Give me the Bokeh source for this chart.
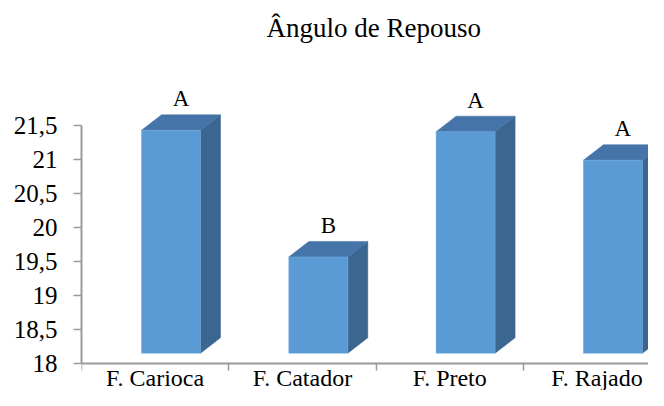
from bokeh.plotting import figure
from bokeh.models import Range1d, LinearAxis, FixedTicker, ColumnDataSource
from bokeh.core.properties import value
from bokeh.embed import file_html
from bokeh.resources import INLINE

# ---- data ----
categories = ["F. Carioca", "F. Catador", "F. Preto", "F. Rajado"]
angulo = [21.43, 19.57, 21.41, 20.99]
letras = ["A", "B", "A", "A"]
y_ticks = [18, 18.5, 19, 19.5, 20, 20.5, 21, 21.5]
title_text = "Ângulo de Repouso"

# ---- layout / style constants ----
W, H = 648, 390
LEFT, TOP = 81, 47
Y_TOP_PX = 125          # pixel row of the top tick
CAT_PX = 147.3          # pixels per category
UNIT_PX = 68.09         # pixels per y unit
PX_X = 1.0 / CAT_PX
PX_Y = 1.0 / UNIT_PX
FRONT_OFF = 60 * PX_X   # front face left offset inside category
BAR_W = 59 * PX_X
DX = 20 * PX_X          # 3D depth
DY = 15.5 * PX_Y
BASE = 18.155           # front face bottom
LETTER_GAP = 7 * PX_Y
FONT = "Liberation Serif"
FRONT_C = "#5B9BD5"
TOP_C = "#4575A8"
SIDE_C = "#3A6690"
AXIS_C = "#9a9a9a"

y0, y1 = y_ticks[0], y_ticks[-1]
y_end = y1 + (Y_TOP_PX - TOP) * PX_Y
y_start = y_end - (H - TOP) * PX_Y
x_end = (W - LEFT) * PX_X

p = figure(width=W, height=H, output_backend="svg", toolbar_location=None,
           x_axis_type=None, y_axis_type=None,
           x_range=Range1d(0, x_end), y_range=Range1d(y_start, y_end),
           min_border_left=LEFT, min_border_right=0, min_border_top=TOP,
           min_border_bottom=0, outline_line_color=None,
           background_fill_color="white", border_fill_color="white")

p.title.text = title_text
p.title.text_font = FONT
p.title.text_font_size = "27px"
p.title.text_font_style = "normal"
p.title.text_color = "#000000"
p.title.align = "left"
p.title.offset = 185

n = len(categories)
lefts = [i + FRONT_OFF for i in range(n)]
rights = [l + BAR_W for l in lefts]

side_xs = [[r, r, r + DX, r + DX] for r in rights]
side_ys = [[BASE, v, v + DY, BASE + DY] for v in angulo]
top_xs = [[l, l + DX, r + DX, r] for l, r in zip(lefts, rights)]
top_ys = [[v, v + DY, v + DY, v] for v in angulo]

p.patches(side_xs, side_ys, fill_color=SIDE_C, line_color=SIDE_C, line_width=0.5)
p.patches(top_xs, top_ys, fill_color=TOP_C, line_color=TOP_C, line_width=0.5)
p.quad(left=lefts, right=rights, bottom=BASE, top=angulo,
       fill_color=FRONT_C, line_color="#6FA8DC", line_width=0.5)

lab_src = ColumnDataSource(dict(
    x=[l + (BAR_W + DX) / 2 for l in lefts],
    y=[v + DY + LETTER_GAP for v in angulo],
    t=letras))
p.text(x="x", y="y", text="t", source=lab_src, text_font=value(FONT),
       text_font_size="23px", text_align="center", text_baseline="alphabetic",
       y_offset=-9, text_color="#000000")

# y axis
yaxis = LinearAxis(ticker=FixedTicker(ticks=y_ticks, minor_ticks=[]), bounds=(y0, y1))
yaxis.major_label_overrides = {t: (f"{t:g}").replace(".", ",") for t in y_ticks}
yaxis.major_label_text_font = FONT
yaxis.major_label_text_font_size = "25px"
yaxis.major_label_text_color = "#000000"
yaxis.major_label_standoff = 16
yaxis.major_tick_out = 8
yaxis.major_tick_in = 0
yaxis.minor_tick_out = 0
yaxis.axis_line_color = AXIS_C
yaxis.axis_line_width = 2
yaxis.major_tick_line_color = AXIS_C
yaxis.major_tick_line_width = 1.5
p.add_layout(yaxis, "left")

# x axis drawn at y = 18
centers = [i + 0.5 for i in range(n)]
bounds = [i for i in range(n + 1)]
xaxis = LinearAxis(ticker=FixedTicker(ticks=centers, minor_ticks=bounds),
                   fixed_location=y0)
xaxis.major_label_overrides = {c: cat for c, cat in zip(centers, categories)}
xaxis.major_label_text_font = FONT
xaxis.major_label_text_font_size = "24px"
xaxis.major_label_text_color = "#000000"
xaxis.major_label_standoff = -6
xaxis.major_tick_out = 0
xaxis.major_tick_in = 0
xaxis.minor_tick_out = 7
xaxis.minor_tick_in = 0
xaxis.minor_tick_line_color = AXIS_C
xaxis.minor_tick_line_width = 1.5
xaxis.axis_line_color = AXIS_C
xaxis.axis_line_width = 2
p.add_layout(xaxis, "below")

open("out.html", "w").write(file_html(p, INLINE))
